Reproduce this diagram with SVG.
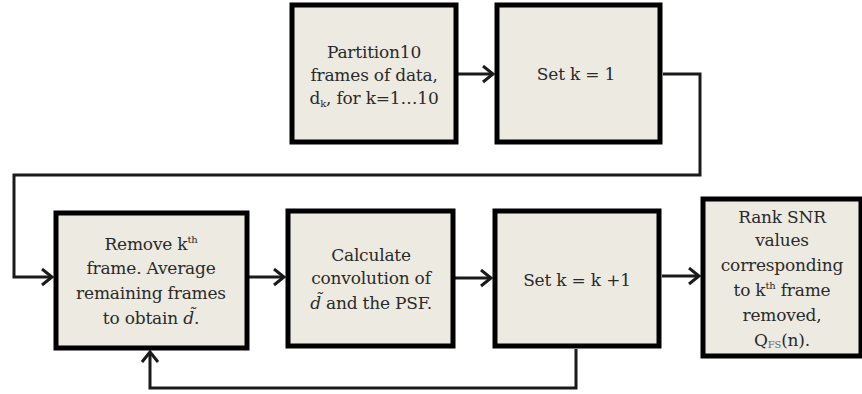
<svg xmlns="http://www.w3.org/2000/svg" width="862" height="394" viewBox="0 0 862 394">
<style>
.box{fill:#edeae2;stroke:#000;stroke-width:5}
.t{font-family:"DejaVu Serif","Liberation Serif",serif;font-size:17px;fill:#2a2a2a;text-anchor:middle;letter-spacing:-0.2px}
.c{fill:none;stroke:#1a1a1a;stroke-width:3}
.sup{font-size:10px}
</style>
<defs>
<marker id="ah" markerUnits="userSpaceOnUse" markerWidth="16" markerHeight="20" refX="12" refY="9" orient="auto" viewBox="0 0 16 20">
<path d="M2,1 L12,9 L2,17" fill="none" stroke="#1a1a1a" stroke-width="3"/>
</marker>
</defs>
<rect width="862" height="394" fill="#fff"/>
<g id="connectors">
<path class="c" d="M458,74 L493,74" marker-end="url(#ah)"/>
<path class="c" d="M663,74 L700,74 L700,175 L14,175 L14,277 L52,277" marker-end="url(#ah)"/>
<path class="c" d="M249,277 L284,277" marker-end="url(#ah)"/>
<path class="c" d="M455,278 L491,278" marker-end="url(#ah)"/>
<path class="c" d="M662,276 L699,276" marker-end="url(#ah)"/>
<path class="c" d="M576,349 L576,388 L150,388 L150,352" marker-end="url(#ah)"/>
</g>
<g id="n1">
<rect class="box" x="292" y="5" width="164" height="137"/>
<text class="t" x="374" y="58">Partition10</text>
<text class="t" x="374" y="81">frames of data,</text>
<text class="t" x="374" y="104">d<tspan class="sup" dy="3">k</tspan><tspan dy="-3">, for k=1…10</tspan></text>
</g>
<g id="n2">
<rect class="box" x="497" y="5" width="163" height="137"/>
<text class="t" x="576" y="80">Set k = 1</text>
</g>
<g id="n3">
<rect class="box" x="56" y="213" width="191" height="135"/>
<text class="t" x="151" y="250">Remove k<tspan class="sup" dy="-7">th</tspan></text>
<text class="t" x="151" y="274">frame. Average</text>
<text class="t" x="151" y="299">remaining frames</text>
<text class="t" x="151" y="324">to obtain <tspan font-style="italic">d̃</tspan>.</text>
</g>
<g id="n4">
<rect class="box" x="288" y="211" width="165" height="135"/>
<text class="t" x="371" y="261">Calculate</text>
<text class="t" x="371" y="284">convolution of</text>
<text class="t" x="371" y="309"><tspan font-style="italic">d̃</tspan> and the PSF.</text>
</g>
<g id="n5">
<rect class="box" x="495" y="211" width="164" height="135"/>
<text class="t" x="577" y="286">Set k = k +1</text>
</g>
<g id="n6">
<rect class="box" x="703" y="199" width="158" height="157"/>
<text class="t" x="782" y="223">Rank SNR</text>
<text class="t" x="782" y="246">values</text>
<text class="t" x="782" y="271">corresponding</text>
<text class="t" x="782" y="296">to k<tspan class="sup" dy="-7">th</tspan><tspan dy="7"> frame</tspan></text>
<text class="t" x="782" y="321">removed,</text>
<text class="t" x="782" y="346">Q<tspan class="sup" dy="2" fill="#666">FS</tspan><tspan dy="-2">(n).</tspan></text>
</g>
</svg>
